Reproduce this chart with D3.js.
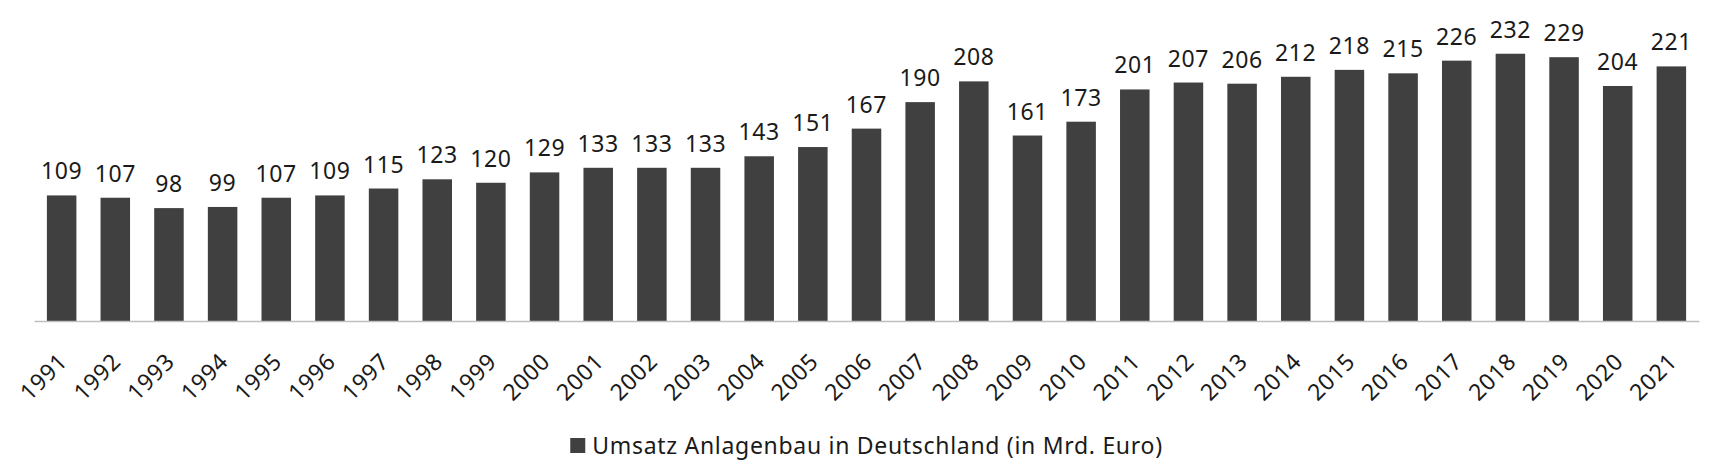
<!DOCTYPE html>
<html>
<head>
<meta charset="utf-8">
<script src="https://cdn.jsdelivr.net/npm/d3@7"></script>
<style>
  body { margin: 0; background: #fff; }
  text { font-family: "Noto Sans", sans-serif; }
</style>
</head>
<body>
<div id="chart"></div>
<script>
let width = 1716;
let height = 474;
let margin = {top: 33, right: 17, bottom: 153, left: 34};

let years = ["1991","1992","1993","1994","1995","1996","1997","1998","1999","2000",
             "2001","2002","2003","2004","2005","2006","2007","2008","2009","2010",
             "2011","2012","2013","2014","2015","2016","2017","2018","2019","2020","2021"];
let umsatz = [109,107,98,99,107,109,115,123,120,129,
              133,133,133,143,151,167,190,208,161,173,
              201,207,206,212,218,215,226,232,229,204,221];
let seriesName = "Umsatz Anlagenbau in Deutschland (in Mrd. Euro)";

let data = years.map((y, i) => ({year: y, value: umsatz[i]}));

let svg = d3.select('#chart')
            .append('svg')
            .attr('width', width)
            .attr('height', height);

let xScale = d3.scaleBand()
                .domain(years)
                .range([margin.left, width - margin.right])
                .paddingInner(0.45)
                .paddingOuter(0.24);

let yScale = d3.scaleLinear()
                .domain([0, 250])
                .range([height - margin.bottom, margin.top]);

// bars
svg.selectAll('rect.bar')
    .data(data)
    .enter()
    .append('rect')
    .attr('class', 'bar')
    .attr('x', d => xScale(d.year))
    .attr('y', d => yScale(d.value))
    .attr('width', xScale.bandwidth())
    .attr('height', d => yScale(0) - yScale(d.value))
    .attr('fill', '#404040');

// value labels
svg.selectAll('text.val')
    .data(data)
    .enter()
    .append('text')
    .attr('class', 'val')
    .attr('x', d => xScale(d.year) + xScale.bandwidth() / 2)
    .attr('y', d => yScale(d.value) - 16)
    .attr('text-anchor', 'middle')
    .style('font-size', '23px')
    .style('letter-spacing', '0.6px')
    .attr('fill', '#1a1a1a')
    .text(d => d.value);

// x axis
let xAxis = d3.axisBottom(xScale).tickSize(0).tickSizeOuter(0);
let gx = svg.append('g')
    .attr('transform', "translate(0," + yScale(0) + ")")
    .call(xAxis);
gx.select('.domain').attr('stroke', '#bfbfbf').attr('stroke-width', 1.5);
gx.selectAll('text')
    .attr('x', 0).attr('y', 0).attr('dy', 0)
    .attr('text-anchor', 'end')
    .attr('transform', 'translate(7,42) rotate(-45)')
    .style('font-size', '23px')
    .style('letter-spacing', '0.6px')
    .style('font-family', '"Noto Sans", sans-serif')
    .attr('fill', '#1a1a1a');

// legend
let legend = svg.append('g');
legend.append('rect')
    .attr('x', 0).attr('y', -16)
    .attr('width', 15).attr('height', 15)
    .attr('fill', '#404040');
let legText = legend.append('text')
    .attr('x', 22).attr('y', 0)
    .style('font-size', '23px')
    .style('letter-spacing', '0.7px')
    .attr('fill', '#1a1a1a')
    .text(seriesName);
let legW = 22 + legText.node().getComputedTextLength();
let cx = (margin.left + width - margin.right) / 2;
legend.attr('transform', "translate(" + (cx - legW / 2) + ",454)");
</script>
</body>
</html>
